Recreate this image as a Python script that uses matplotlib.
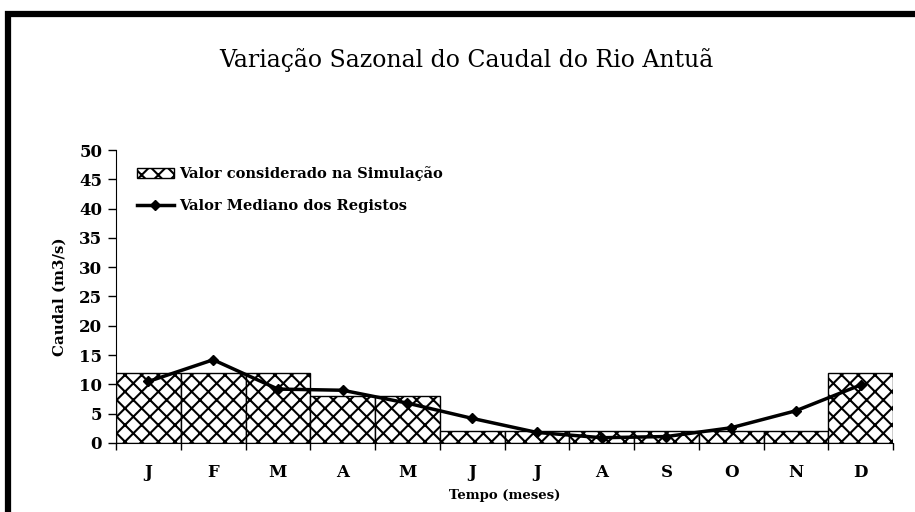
import matplotlib
matplotlib.use("Agg")
import matplotlib.pyplot as plt
import matplotlib.patches as patches
import numpy as np

# data
months = ['J', 'F', 'M', 'A', 'M', 'J', 'J', 'A', 'S', 'O', 'N', 'D']
sim_values = [12, 12, 12, 8, 8, 2, 2, 2, 2, 2, 2, 12]
median_values = [10.5, 14.2, 9.2, 9.0, 6.8, 4.2, 1.8, 0.9, 1.1, 2.6, 5.5, 9.9]

plt.rcParams['font.family'] = ['DejaVu Serif']
plt.rcParams['hatch.linewidth'] = 1.5
plt.rcParams['hatch.color'] = '#5a5a5a'

fig = plt.figure(figsize=(9.15, 5.12), dpi=100)
ax = fig.add_axes([0.1268, 0.1348, 0.976 - 0.1268, 0.707 - 0.1348])

x = np.arange(len(months))
bars = ax.bar(x + 0.5, sim_values, width=1.0, color='white', edgecolor='black',
              hatch='xx', linewidth=1.0, label='Valor considerado na Simulação')
line, = ax.plot(x + 0.5, median_values, '-D', color='black', linewidth=2.5,
                markersize=5.5, label='Valor Mediano dos Registos')

ax.set_xlim(0, 12)
ax.set_ylim(0, 50)
ax.set_yticks(np.arange(0, 51, 5))
ax.set_xticks(np.arange(0, 13), [''] * 13)
ax.set_xticks(x + 0.5, months, minor=True)
ax.tick_params(axis='x', which='major', direction='out', length=5, width=1)
ax.tick_params(axis='x', which='minor', length=0, pad=15, labelsize=12)
ax.tick_params(axis='y', direction='out', length=6, width=1, labelsize=12, pad=4)
for lab in ax.get_xticklabels(minor=True) + ax.get_yticklabels():
    lab.set_fontweight('bold')

for s in ['top', 'right']:
    ax.spines[s].set_visible(False)

ax.set_ylabel('Caudal (m3/s)', fontsize=10.8, fontweight='bold', labelpad=9)
ax.set_xlabel('Tempo (meses)', fontsize=9.5, fontweight='bold', labelpad=6)

ax.legend([bars, line], [bars.get_label(), line.get_label()],
          loc='upper left', bbox_to_anchor=(0.014, 0.98),
          frameon=False, prop={'weight': 'bold', 'size': 10.5},
          labelspacing=1.25, handlelength=2.5, handleheight=0.7,
          handletextpad=0.4, borderaxespad=0.3)

fig.text(0.51, 0.882, 'Variação Sazonal do Caudal do Rio Antuã',
         ha='center', va='center', fontsize=17)

# thick black frame around the chart area (cropped at right and bottom)
frame = patches.Rectangle((8 / 915, -0.2), 1.2, (512 - 14) / 512 + 0.2,
                          transform=fig.transFigure, fill=False,
                          edgecolor='black', linewidth=4.5, clip_on=False)
fig.patches.append(frame)

fig.savefig('out.png', dpi=100)
